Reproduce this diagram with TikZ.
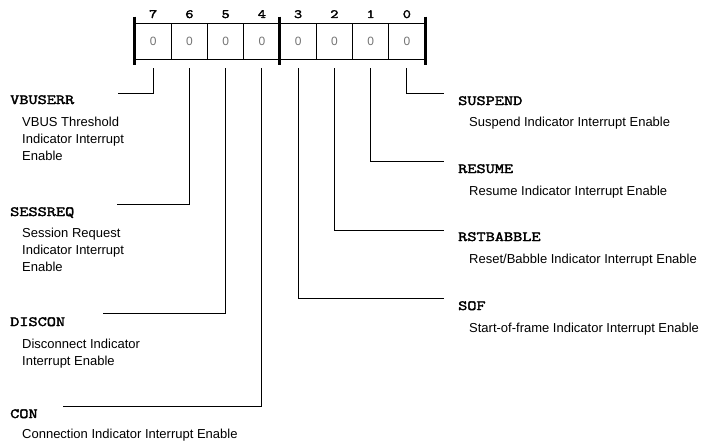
\documentclass[tikz,border=0pt]{standalone}
\usepackage{fontspec}
\setmainfont{Liberation Sans}
\newfontfamily\descfont{Liberation Sans}
\newfontfamily\fldfont[FakeBold=2.5,FakeStretch=1.27]{Latin Modern Mono}
\tikzset{
  cell/.style={draw, line width=0.8pt, minimum width=36.25pt, minimum height=36pt, inner sep=0pt,
    font=\descfont\fontsize{12}{13}\selectfont, text=black!55},
  bitnum/.style={anchor=base, inner sep=0pt, font=\fldfont\fontsize{12.5}{14}\selectfont},
  fld/.style={anchor=base west, inner sep=0pt, font=\fldfont\fontsize{14}{16}\selectfont},
  desc/.style={anchor=north west, inner sep=0pt, align=left, font=\descfont\fontsize{13}{16.67}\selectfont},
  thin/.style={line width=0.8pt},
  thick/.style={line width=2.5pt},
}
\begin{document}
\begin{tikzpicture}[x=1pt,y=-1pt]
\useasboundingbox (0,0) rectangle (703,444);
% cells
\foreach \b/\i in {7/0,6/1,5/2,4/3,3/4,2/5,1/6,0/7}{
  \node[cell] (c\b) at ({135+36.25*(\i+0.5)},41) {0};
  \node[bitnum] (n\b) at ({135+36.25*(\i+0.5)},18) {\b};
}
\draw[thick] ([yshift=6pt]c7.north west) -- ([yshift=-6pt]c7.south west);
\draw[thick] ([yshift=6pt]c3.north west) -- ([yshift=-6pt]c3.south west);
\draw[thick] ([yshift=6pt]c0.north east) -- ([yshift=-6pt]c0.south east);
% end coordinates
\coordinate (e7) at (118,93);
\coordinate (e6) at (117,204);
\coordinate (e5) at (103,313);
\coordinate (e4) at (63,406);
\coordinate (e0) at (444,93);
\coordinate (e1) at (444,161);
\coordinate (e2) at (444,230);
\coordinate (e3) at (444,298);
\foreach \b in {7,6,5,4,3,2,1,0}{
  \draw[thin] ([yshift=-9pt]c\b.south) |- (e\b);
}
% left labels
\node[fld] (l7) at (10,104) {VBUSERR};
\node[desc] (d7) at (22,117.3) {VBUS Threshold\\Indicator Interrupt\\Enable};
\node[fld] (l6) at (10,216) {SESSREQ};
\node[desc] (d6) at (22,228.3) {Session Request\\Indicator Interrupt\\Enable};
\node[fld] (l5) at (10,326) {DISCON};
\node[desc] (d5) at (22,339) {Disconnect Indicator\\Interrupt Enable};
\node[fld] (l4) at (10,418) {CON};
\node[desc] (d4) at (22,429) {Connection Indicator Interrupt Enable};
% right labels
\node[fld] (l0) at (458,105) {SUSPEND};
\node[desc] (d0) at (469,117.3) {Suspend Indicator Interrupt Enable};
\node[fld] (l1) at (458,173) {RESUME};
\node[desc] (d1) at (469,185.6) {Resume Indicator Interrupt Enable};
\node[fld] (l2) at (458,241) {RSTBABBLE};
\node[desc] (d2) at (469,254) {Reset/Babble Indicator Interrupt Enable};
\node[fld] (l3) at (458,310) {SOF};
\node[desc] (d3) at (469,322.6) {Start-of-frame Indicator Interrupt Enable};
\end{tikzpicture}
\end{document}
